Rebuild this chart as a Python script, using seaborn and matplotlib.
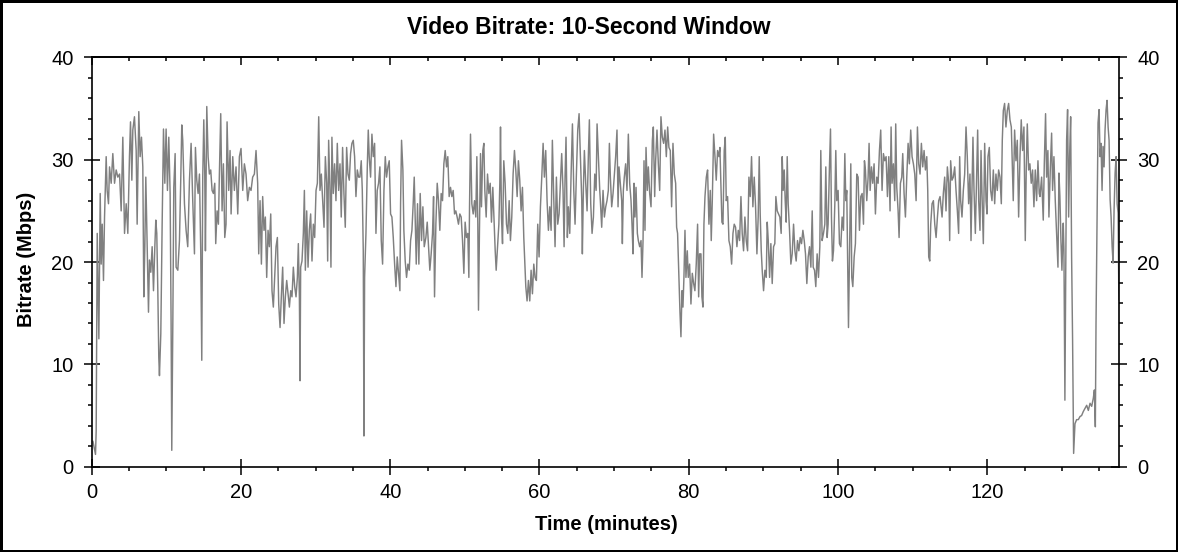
import numpy as np
import pandas as pd
import matplotlib
matplotlib.use("Agg")
import matplotlib.pyplot as plt
from matplotlib.ticker import MultipleLocator
import seaborn as sns

# Data (time in minutes, bitrate in Mbps)

minutes = [
    0.16, 0.51, 0.6, 0.74, 0.96, 1.14, 1.27, 1.41, 1.58, 1.72,
    1.94, 2.07, 2.25, 2.39, 2.61, 2.83, 3.06, 3.28, 3.5, 3.73,
    3.95, 4.17, 4.4, 4.62, 4.84, 5.06, 5.2, 5.38, 5.51, 5.73,
    5.96, 6.09, 6.31, 6.49, 6.67, 6.85, 6.98, 7.12, 7.25, 7.43,
    7.61, 7.74, 7.92, 8.1, 8.28, 8.46, 8.59, 8.72, 8.86, 8.99,
    9.08, 9.26, 9.44, 9.62, 9.8, 9.97, 10.15, 10.33, 10.51, 10.64,
    10.73, 10.87, 11.0, 11.18, 11.31, 11.54, 11.76, 11.94, 12.07, 12.2,
    12.43, 12.65, 12.87, 13.1, 13.32, 13.54, 13.77, 13.9, 14.08, 14.26,
    14.44, 14.61, 14.75, 14.88, 15.02, 15.15, 15.24, 15.42, 15.6, 15.77,
    15.95, 16.13, 16.31, 16.49, 16.62, 16.8, 16.98, 17.11, 17.29, 17.47,
    17.65, 17.83, 18.0, 18.14, 18.36, 18.54, 18.68, 18.9, 19.12, 19.34,
    19.57, 19.79, 20.01, 20.24, 20.46, 20.68, 20.9, 21.13, 21.35, 21.57,
    21.8, 22.02, 22.24, 22.38, 22.56, 22.74, 22.91, 23.09, 23.27, 23.45,
    23.63, 23.81, 23.99, 24.16, 24.34, 24.52, 24.7, 24.88, 25.06, 25.24,
    25.41, 25.59, 25.77, 25.95, 26.13, 26.31, 26.49, 26.67, 26.84, 27.02,
    27.2, 27.38, 27.56, 27.69, 27.83, 27.92, 28.0, 28.18, 28.36, 28.5,
    28.63, 28.81, 28.99, 29.16, 29.34, 29.52, 29.7, 29.88, 30.06, 30.24,
    30.42, 30.59, 30.77, 30.95, 31.13, 31.31, 31.49, 31.62, 31.75, 31.93,
    32.06, 32.19, 32.37, 32.55, 32.73, 32.91, 33.09, 33.27, 33.44, 33.62,
    33.8, 33.98, 34.16, 34.34, 34.52, 34.69, 34.87, 35.05, 35.23, 35.41,
    35.59, 35.77, 35.94, 36.12, 36.26, 36.39, 36.48, 36.57, 36.75, 36.93,
    37.06, 37.19, 37.37, 37.55, 37.73, 37.91, 38.09, 38.26, 38.44, 38.62,
    38.8, 38.98, 39.16, 39.34, 39.51, 39.69, 39.87, 40.05, 40.23, 40.41,
    40.59, 40.77, 40.94, 41.12, 41.3, 41.39, 41.52, 41.7, 41.83, 42.01,
    42.19, 42.37, 42.55, 42.73, 42.91, 43.08, 43.22, 43.35, 43.49, 43.66,
    43.84, 44.02, 44.2, 44.38, 44.56, 44.78, 44.96, 45.14, 45.31, 45.49,
    45.67, 45.81, 45.94, 46.12, 46.3, 46.47, 46.65, 46.83, 47.01, 47.19,
    47.37, 47.55, 47.72, 47.9, 48.08, 48.26, 48.44, 48.62, 48.79, 48.97,
    49.15, 49.33, 49.51, 49.69, 49.87, 50.04, 50.22, 50.4, 50.54, 50.63,
    50.76, 50.94, 51.12, 51.3, 51.47, 51.61, 51.74, 51.83, 51.96, 52.1,
    52.23, 52.41, 52.55, 52.68, 52.86, 53.04, 53.22, 53.4, 53.57, 53.75,
    53.93, 54.07, 54.2, 54.38, 54.56, 54.69, 54.78, 54.91, 55.05, 55.22,
    55.4, 55.58, 55.76, 55.94, 56.11, 56.29, 56.47, 56.65, 56.83, 57.01,
    57.18, 57.36, 57.54, 57.72, 57.9, 58.03, 58.17, 58.34, 58.52, 58.7,
    58.88, 59.06, 59.24, 59.41, 59.59, 59.77, 59.95, 60.13, 60.31, 60.49,
    60.66, 60.84, 61.02, 61.2, 61.38, 61.56, 61.73, 61.91, 62.09, 62.27,
    62.45, 62.63, 62.81, 62.98, 63.16, 63.3, 63.43, 63.56, 63.74, 63.88,
    64.06, 64.24, 64.42, 64.6, 64.77, 64.95, 65.13, 65.31, 65.49, 65.67,
    65.75, 65.89, 66.02, 66.2, 66.38, 66.56, 66.69, 66.87, 67.05, 67.23,
    67.41, 67.59, 67.72, 67.9, 68.08, 68.16, 68.34, 68.52, 68.7, 68.88,
    69.05, 69.23, 69.37, 69.5, 69.68, 69.86, 70.04, 70.21, 70.39, 70.53,
    70.66, 70.84, 71.02, 71.11, 71.24, 71.37, 71.55, 71.73, 71.91, 72.09,
    72.27, 72.4, 72.54, 72.67, 72.8, 72.94, 73.12, 73.25, 73.43, 73.61,
    73.74, 73.88, 74.01, 74.14, 74.28, 74.45, 74.59, 74.77, 74.95, 75.13,
    75.26, 75.44, 75.57, 75.75, 75.93, 76.11, 76.28, 76.46, 76.64, 76.82,
    77.0, 77.18, 77.35, 77.53, 77.71, 77.89, 78.07, 78.25, 78.38, 78.51,
    78.69, 78.83, 78.96, 79.1, 79.23, 79.36, 79.5, 79.63, 79.81, 79.94,
    80.12, 80.3, 80.48, 80.66, 80.83, 81.01, 81.19, 81.33, 81.46, 81.64,
    81.77, 81.91, 82.04, 82.18, 82.36, 82.53, 82.71, 82.89, 83.02, 83.16,
    83.34, 83.52, 83.69, 83.87, 84.05, 84.18, 84.32, 84.45, 84.59, 84.76,
    84.9, 85.03, 85.21, 85.39, 85.57, 85.75, 85.93, 86.1, 86.28, 86.46,
    86.64, 86.82, 87.0, 87.17, 87.35, 87.53, 87.71, 87.89, 88.07, 88.24,
    88.42, 88.6, 88.78, 88.96, 89.14, 89.31, 89.45, 89.58, 89.72, 89.85,
    90.03, 90.21, 90.39, 90.52, 90.66, 90.84, 91.01, 91.19, 91.37, 91.54,
    91.68, 91.86, 92.03, 92.21, 92.39, 92.53, 92.66, 92.8, 92.93, 93.06,
    93.2, 93.33, 93.51, 93.69, 93.87, 94.05, 94.23, 94.4, 94.58, 94.76,
    94.94, 95.12, 95.3, 95.48, 95.65, 95.83, 96.01, 96.19, 96.37, 96.55,
    96.68, 96.86, 97.03, 97.21, 97.39, 97.57, 97.7, 97.88, 98.06, 98.24,
    98.37, 98.55, 98.68, 98.86, 99.0, 99.13, 99.26, 99.4, 99.58, 99.71,
    99.84, 100.02, 100.2, 100.38, 100.56, 100.74, 100.92, 101.05, 101.18, 101.32,
    101.41, 101.54, 101.72, 101.85, 101.99, 102.17, 102.34, 102.52, 102.7, 102.88,
    103.06, 103.24, 103.42, 103.55, 103.68, 103.86, 104.04, 104.17, 104.31, 104.49,
    104.66, 104.84, 105.02, 105.2, 105.38, 105.56, 105.73, 105.91, 106.09, 106.27,
    106.45, 106.63, 106.81, 106.98, 107.12, 107.25, 107.43, 107.61, 107.74, 107.88,
    108.06, 108.19, 108.37, 108.55, 108.68, 108.86, 109.04, 109.22, 109.4, 109.57,
    109.75, 109.93, 110.11, 110.29, 110.47, 110.65, 110.82, 111.0, 111.18, 111.36,
    111.54, 111.72, 111.9, 112.03, 112.16, 112.3, 112.43, 112.61, 112.79, 112.97,
    113.15, 113.33, 113.5, 113.68, 113.95, 114.12, 114.3, 114.48, 114.66, 114.84,
    114.97, 115.1, 115.28, 115.46, 115.64, 115.82, 116.0, 116.17, 116.31, 116.44,
    116.62, 116.8, 116.98, 117.16, 117.33, 117.51, 117.69, 117.83, 117.96, 118.09,
    118.23, 118.41, 118.59, 118.72, 118.86, 119.03, 119.17, 119.3, 119.48, 119.66,
    119.84, 119.97, 120.1, 120.28, 120.46, 120.64, 120.82, 121.0, 121.17, 121.35,
    121.53, 121.71, 121.89, 122.02, 122.16, 122.33, 122.51, 122.69, 122.87, 123.05,
    123.23, 123.36, 123.49, 123.67, 123.85, 124.03, 124.21, 124.39, 124.56, 124.74,
    124.92, 125.1, 125.23, 125.37, 125.55, 125.72, 125.9, 126.08, 126.26, 126.44,
    126.62, 126.8, 126.97, 127.07, 127.29, 127.51, 127.65, 127.82, 127.96, 128.13,
    128.27, 128.45, 128.63, 128.76, 128.94, 129.12, 129.3, 129.48, 129.61, 129.74,
    129.88, 130.01, 130.19, 130.28, 130.41, 130.55, 130.64, 130.77, 130.91, 131.04,
    131.18, 131.31, 131.44, 131.58, 131.76, 131.98, 132.21, 132.43, 132.65, 132.88,
    133.1, 133.33, 133.55, 133.78, 134.0, 134.22, 134.36, 134.49, 134.58, 134.72,
    134.85, 134.99, 135.12, 135.25, 135.39, 135.52, 135.66, 135.79, 135.93, 136.06,
    136.2, 136.33, 136.47, 136.6, 136.74, 136.87, 137.0, 137.14, 137.27, 137.41,
    137.54, 137.63, 137.67,
]

mbps = [
    2.5, 1.2, 3.5, 22.8, 12.5, 26.7, 19.8, 23.7, 18.2, 24.4,
    30.3, 27.0, 25.7, 29.3, 27.7, 30.6, 27.7, 29.0, 28.3, 28.6,
    25.0, 32.2, 22.8, 25.7, 22.8, 30.3, 33.7, 28.0, 32.9, 34.2,
    30.9, 23.7, 34.7, 30.3, 32.2, 29.3, 16.6, 21.5, 28.3, 21.8,
    15.1, 20.2, 19.0, 21.5, 17.2, 21.5, 24.1, 22.8, 17.2, 10.7,
    8.9, 13.0, 23.7, 33.0, 27.7, 33.0, 27.0, 32.2, 26.7, 14.0,
    1.6, 14.0, 27.3, 30.6, 19.5, 19.2, 22.1, 28.3, 33.4, 31.9,
    25.7, 23.1, 21.5, 28.0, 31.6, 26.0, 20.8, 31.2, 28.0, 26.7,
    28.6, 21.1, 10.4, 28.3, 33.9, 28.6, 21.1, 35.2, 30.3, 28.6,
    29.0, 27.0, 26.7, 27.7, 21.8, 25.0, 23.7, 28.6, 34.5, 25.0,
    29.6, 22.4, 23.7, 33.7, 27.0, 30.9, 24.7, 30.3, 27.0, 29.3,
    24.7, 30.3, 31.1, 27.0, 29.6, 28.6, 26.0, 27.3, 27.0, 28.3,
    28.6, 30.9, 27.7, 20.8, 26.0, 19.8, 26.4, 23.1, 24.4, 18.5,
    23.1, 21.5, 24.7, 17.2, 15.6, 18.5, 21.5, 22.4, 15.9, 13.6,
    16.6, 19.5, 14.0, 16.6, 18.2, 16.9, 15.6, 17.2, 16.6, 19.5,
    17.6, 16.6, 18.5, 21.8, 16.6, 8.4, 19.5, 20.1, 22.8, 27.0,
    19.2, 25.0, 19.5, 23.1, 24.7, 20.1, 23.7, 22.4, 27.0, 27.7,
    34.2, 27.0, 28.6, 26.0, 23.4, 30.3, 27.7, 20.1, 31.9, 27.0,
    19.5, 32.2, 26.7, 29.6, 26.0, 31.6, 27.0, 29.6, 24.4, 31.2,
    26.7, 23.4, 31.2, 28.6, 28.0, 30.6, 31.6, 31.9, 30.3, 26.4,
    29.0, 28.3, 28.3, 29.9, 27.0, 21.1, 3.0, 18.5, 22.8, 29.3,
    32.9, 30.3, 28.3, 32.5, 30.3, 31.6, 22.8, 27.0, 27.7, 29.3,
    22.1, 19.8, 27.0, 30.3, 28.3, 29.3, 29.9, 24.7, 24.4, 22.4,
    19.8, 17.6, 20.5, 18.9, 17.2, 25.7, 31.9, 29.0, 23.1, 20.1,
    18.5, 19.8, 19.2, 22.1, 23.1, 25.7, 28.3, 24.4, 19.8, 25.7,
    19.8, 26.7, 22.1, 25.4, 21.5, 22.4, 23.9, 21.5, 19.2, 20.8,
    22.8, 26.4, 16.6, 23.7, 27.7, 26.0, 23.1, 26.7, 26.0, 29.6,
    30.9, 29.3, 30.3, 26.4, 27.3, 26.4, 27.0, 24.7, 25.0, 24.4,
    23.7, 24.7, 24.4, 22.1, 18.9, 23.9, 22.4, 22.8, 18.5, 25.4,
    32.5, 25.7, 24.7, 26.0, 24.4, 30.3, 23.7, 15.3, 23.1, 30.6,
    25.4, 30.9, 31.6, 27.0, 24.4, 28.6, 26.7, 27.7, 23.9, 27.3,
    23.7, 21.1, 19.2, 21.5, 23.7, 27.7, 33.2, 24.4, 21.8, 29.9,
    27.7, 23.7, 22.8, 26.0, 22.1, 24.4, 28.6, 30.9, 29.0, 26.4,
    29.9, 28.0, 25.0, 27.3, 22.4, 20.1, 17.6, 16.2, 18.2, 16.2,
    19.2, 16.9, 19.8, 18.5, 18.2, 23.7, 20.5, 25.4, 28.3, 31.6,
    28.3, 30.9, 26.0, 23.1, 25.4, 23.1, 31.9, 26.4, 21.5, 28.3,
    23.7, 24.7, 27.7, 30.6, 27.0, 21.5, 28.3, 32.2, 22.4, 25.4,
    22.8, 28.6, 33.5, 27.0, 23.7, 28.6, 32.9, 34.5, 30.3, 26.0,
    20.8, 27.3, 30.9, 27.7, 25.0, 30.6, 33.9, 25.7, 22.8, 24.4,
    28.6, 27.0, 33.5, 30.3, 27.0, 26.0, 23.4, 27.0, 24.4, 25.4,
    26.0, 27.0, 31.6, 28.3, 25.4, 26.7, 28.6, 30.3, 32.9, 25.4,
    29.3, 27.7, 26.0, 21.8, 27.0, 28.3, 29.6, 27.0, 32.5, 27.7,
    26.0, 23.7, 20.8, 27.7, 24.4, 27.3, 22.8, 22.1, 21.5, 22.1,
    18.5, 22.1, 29.9, 23.1, 31.2, 27.0, 29.3, 26.7, 25.4, 31.9,
    33.2, 26.4, 29.9, 32.9, 29.6, 27.0, 34.2, 32.2, 31.6, 32.9,
    30.3, 33.2, 31.2, 30.9, 25.4, 31.6, 28.6, 27.7, 23.4, 22.8,
    18.5, 15.1, 12.7, 17.2, 15.6, 18.5, 23.1, 18.5, 21.1, 18.5,
    19.8, 15.9, 18.9, 17.9, 17.2, 19.8, 23.7, 16.6, 20.8, 20.8,
    16.6, 15.6, 23.7, 26.4, 28.3, 29.0, 23.7, 27.0, 22.1, 26.0,
    32.5, 30.3, 28.0, 30.9, 30.3, 31.2, 27.3, 23.9, 23.7, 30.9,
    32.2, 26.0, 26.4, 22.1, 21.5, 19.8, 22.8, 23.7, 23.4, 21.5,
    23.1, 22.1, 26.4, 22.8, 21.1, 24.4, 22.1, 21.1, 28.3, 26.4,
    30.3, 25.4, 28.3, 25.4, 20.8, 24.4, 30.3, 24.7, 21.1, 19.2,
    17.2, 19.2, 18.5, 23.9, 22.1, 18.5, 21.8, 17.9, 21.5, 21.8,
    26.4, 25.0, 24.7, 24.4, 22.8, 30.3, 27.0, 29.0, 26.0, 23.9,
    30.3, 25.7, 23.1, 19.8, 20.8, 23.7, 21.1, 20.1, 22.1, 21.1,
    22.4, 21.8, 23.1, 22.1, 20.8, 17.9, 20.5, 21.5, 19.5, 25.0,
    19.5, 19.2, 17.6, 20.8, 18.5, 21.5, 30.9, 22.1, 22.8, 23.7,
    29.3, 22.4, 23.7, 29.3, 33.0, 24.4, 20.1, 21.1, 25.7, 30.9,
    26.0, 27.0, 21.8, 21.5, 24.4, 23.1, 30.6, 26.0, 27.0, 18.5,
    13.6, 20.5, 29.6, 18.5, 17.6, 20.5, 21.8, 28.6, 28.3, 23.1,
    26.4, 26.7, 23.7, 29.9, 29.0, 26.0, 28.3, 31.6, 27.0, 29.3,
    27.7, 29.6, 24.7, 28.3, 27.7, 30.9, 32.9, 27.0, 30.6, 29.9,
    30.3, 26.4, 30.3, 25.0, 33.2, 27.7, 29.6, 26.0, 33.5, 27.3,
    25.0, 22.4, 27.7, 28.3, 30.6, 26.7, 24.4, 28.3, 31.6, 29.6,
    32.9, 30.3, 29.6, 28.6, 26.0, 33.2, 29.6, 28.6, 31.6, 29.3,
    30.9, 29.0, 30.3, 27.0, 20.5, 20.1, 23.7, 25.7, 26.0, 23.7,
    22.4, 24.4, 26.0, 26.4, 24.4, 26.7, 28.3, 25.0, 29.3, 27.7,
    22.1, 29.9, 28.0, 28.3, 29.3, 27.0, 25.0, 22.8, 30.3, 26.0,
    24.4, 27.0, 28.6, 33.2, 30.3, 25.7, 28.6, 22.1, 27.0, 32.2,
    27.0, 22.8, 28.6, 32.9, 26.0, 23.1, 30.9, 26.7, 21.8, 31.6,
    26.0, 24.7, 30.3, 31.2, 27.0, 26.0, 29.0, 25.7, 28.6, 27.0,
    29.0, 28.3, 25.7, 31.9, 34.8, 35.5, 33.2, 34.8, 35.5, 33.9,
    33.2, 29.6, 26.0, 32.9, 29.9, 31.9, 24.4, 30.3, 33.9, 30.9,
    33.2, 22.1, 29.0, 33.5, 29.0, 29.6, 27.7, 29.0, 25.4, 29.0,
    26.0, 29.9, 26.7, 26.4, 28.3, 24.1, 29.6, 34.5, 28.3, 30.9,
    24.4, 29.0, 32.6, 27.0, 30.3, 26.0, 22.8, 19.5, 28.7, 26.4,
    22.1, 19.2, 23.8, 21.2, 6.5, 21.5, 31.9, 34.9, 24.4, 30.3,
    34.2, 20.5, 12.4, 1.3, 4.2, 4.6, 4.6, 4.9, 5.0, 5.4,
    5.7, 6.0, 5.5, 6.2, 5.9, 6.7, 7.5, 3.9, 14.0, 24.4,
    33.6, 34.9, 30.3, 31.6, 27.0, 31.3, 29.3, 32.9, 34.9, 35.8,
    33.2, 31.9, 26.1, 24.4, 21.5, 19.9, 25.1, 28.7, 30.3, 25.7,
    24.8, 17.3, 16.3,
]

df = pd.DataFrame({"Time": minutes, "Bitrate": mbps})

# Style

sns.set_style("white")
plt.rcParams["font.family"] = ["Liberation Sans", "DejaVu Sans"]
plt.rcParams["text.color"] = "black"

fig = plt.figure(figsize=(11.78, 5.52), dpi=100)
fig.patch.set_edgecolor("black")
fig.patch.set_linewidth(2.5)

ax = fig.add_axes([91.7 / 1178, 1 - 466.7 / 552,
                   (1119.3 - 91.7) / 1178, (466.7 - 57.4) / 552])

sns.lineplot(data=df, x="Time", y="Bitrate", ax=ax, color="#808080",
             linewidth=1.05, estimator=None)

ax.set_xlim(0, 137.7)
ax.set_ylim(0, 40)
ax.set_xlabel("")
ax.set_ylabel("")

ax.xaxis.set_major_locator(MultipleLocator(20))
ax.xaxis.set_minor_locator(MultipleLocator(5))
ax.yaxis.set_major_locator(MultipleLocator(10))
ax.yaxis.set_minor_locator(MultipleLocator(2))

for sp in ax.spines.values():
    sp.set_color("black")
    sp.set_linewidth(1.2)

ax.tick_params(which="major", direction="inout", length=11, width=1.1,
               color="black", labelcolor="black", labelsize=14.5)
ax.tick_params(which="minor", direction="out", length=3.2, width=1.1,
               color="black")
ax.tick_params(axis="y", which="both", left=True, right=True,
               labelleft=True, labelright=True, pad=7.5)
ax.tick_params(axis="x", which="both", bottom=True, top=False, pad=6.5)

# top ticks point inward
top = ax.secondary_xaxis("top")
top.xaxis.set_major_locator(MultipleLocator(20))
top.xaxis.set_minor_locator(MultipleLocator(5))
top.tick_params(which="major", direction="in", length=5.5, width=1.1,
                color="black", labeltop=False)
top.tick_params(which="minor", direction="in", length=3.2, width=1.1,
                color="black")
top.spines["top"].set_linewidth(1.2)
top.spines["top"].set_color("black")

# Titles

fig.text(0.5, 1 - 28 / 552, "Video Bitrate: 10-Second Window", color="black",
         ha="center", va="center", fontsize=16.5, fontweight="bold")
fig.text(606 / 1178, 1 - 524 / 552, "Time (minutes)", color="black",
         ha="center", va="center", fontsize=14.5, fontweight="bold")
fig.text(26 / 1178, 1 - 259 / 552, "Bitrate (Mbps)", rotation=90, color="black",
         ha="center", va="center", fontsize=14.5, fontweight="bold")

fig.savefig("out.png", dpi=100)
